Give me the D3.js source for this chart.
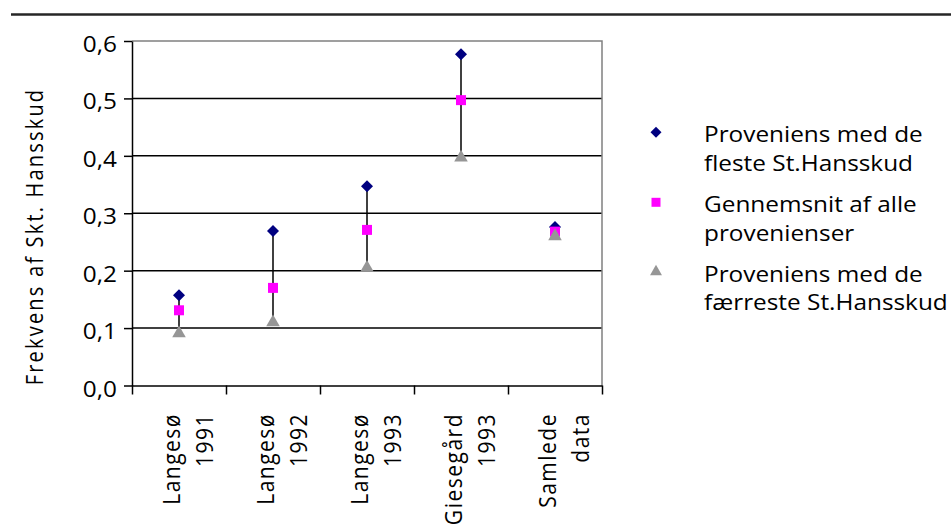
<!DOCTYPE html>
<html lang="da">
<head>
<meta charset="utf-8">
<title>Frekvens af Skt. Hansskud</title>
<script src="https://cdn.jsdelivr.net/npm/d3@7"></script>
<style>
    body { margin: 0; background: #fff; }
    text { font-family: "Open Sans", "Noto Sans", sans-serif; fill: #000; }
    .axis path, .axis line { fill: none; stroke: #000; stroke-width: 1.5; }
</style>
</head>
<body>
<script>
// data
var categories = [["Langesø", "1991"], ["Langesø", "1992"], ["Langesø", "1993"], ["Giesegård", "1993"], ["Samlede", "data"]];
var maxValues  = [0.157, 0.269, 0.347, 0.577, 0.276];
var meanValues = [0.131, 0.170, 0.271, 0.497, 0.268];
var minValues  = [0.091, 0.110, 0.205, 0.397, 0.260];
var yTicks = [0, 0.1, 0.2, 0.3, 0.4, 0.5, 0.6];
var seriesNames = [
    ["Proveniens med de", "fleste St.Hansskud"],
    ["Gennemsnit af alle", "provenienser"],
    ["Proveniens med de", "færreste St.Hansskud"]
];

var w = 951, h = 529;
var plotLeft = 132, plotRight = 602, plotTop = 41, plotBottom = 385.5;
var sx = 1.16;   // the original text is drawn a bit wide

var svg = d3.select("body").append("svg")
    .attr("width", w)
    .attr("height", h);

// rule at the top of the page
svg.append("line")
    .attr("x1", 11).attr("x2", w)
    .attr("y1", 14.5).attr("y2", 14.5)
    .attr("stroke", "#262626")
    .attr("stroke-width", 2.5);

var x = d3.scaleBand()
    .domain(d3.range(categories.length))
    .range([plotLeft, plotRight]);
var xEdge = d3.scaleLinear()
    .domain([0, categories.length])
    .range([plotLeft, plotRight]);
var y = d3.scaleLinear()
    .domain([0, 0.6])
    .range([plotBottom, plotTop]);

// gridlines
svg.selectAll("line.grid")
    .data(yTicks.filter(function(d) { return d > 0 && d < 0.6; }))
    .enter()
    .append("line")
    .attr("class", "grid")
    .attr("x1", plotLeft).attr("x2", plotRight)
    .attr("y1", function(d) { return y(d); })
    .attr("y2", function(d) { return y(d); })
    .attr("stroke", "#000")
    .attr("stroke-width", 1.5);

// grey frame top and right
svg.append("path")
    .attr("d", "M" + plotLeft + "," + y(0.6) + "H" + plotRight + "V" + plotBottom)
    .attr("fill", "none")
    .attr("stroke", "#808080")
    .attr("stroke-width", 1.5);

// axes
svg.append("g")
    .attr("class", "axis")
    .attr("transform", "translate(" + plotLeft + ",0)")
    .call(d3.axisLeft(y).tickValues(yTicks).tickSize(8).tickSizeOuter(0).tickFormat(""));
svg.append("g")
    .attr("class", "axis")
    .attr("transform", "translate(0," + plotBottom + ")")
    .call(d3.axisBottom(xEdge).tickValues(d3.range(categories.length + 1)).tickSize(9).tickSizeOuter(0).tickFormat(""));

// y tick labels
svg.selectAll("text.ytick")
    .data(yTicks)
    .enter()
    .append("text")
    .attr("class", "ytick")
    .attr("text-anchor", "end")
    .attr("font-size", 21)
    .attr("transform", function(d) { return "translate(117," + (y(d) + 11) + ") scale(" + sx + ",1)"; })
    .text(function(d) { return d3.format(".1f")(d).replace(".", ","); });

// x labels, rotated
var xl = svg.selectAll("text.xlab")
    .data(categories)
    .enter()
    .append("text")
    .attr("class", "xlab")
    .attr("text-anchor", "end")
    .attr("font-size", 21)
    .attr("letter-spacing", 1.5)
    .attr("transform", function(d, i) {
        return "translate(" + (x(i) + x.bandwidth() / 2 + 1) + ",413) scale(" + sx + ",1) rotate(-90)";
    });
xl.append("tspan").attr("x", 0).text(function(d) { return d[0]; });
xl.append("tspan").attr("x", 0).attr("dy", 28.6).text(function(d) { return d[1]; });

// y title
svg.append("text")
    .attr("text-anchor", "middle")
    .attr("font-size", 20)
    .attr("letter-spacing", 2.2)
    .attr("transform", "translate(43,236.5) scale(" + sx + ",1) rotate(-90)")
    .text("Frekvens af Skt. Hansskud");

// high-low lines
svg.selectAll("line.hl")
    .data(d3.range(categories.length))
    .enter()
    .append("line")
    .attr("class", "hl")
    .attr("x1", function(i) { return x(i) + x.bandwidth() / 2; })
    .attr("x2", function(i) { return x(i) + x.bandwidth() / 2; })
    .attr("y1", function(i) { return y(maxValues[i]); })
    .attr("y2", function(i) { return y(minValues[i]); })
    .attr("stroke", "#000")
    .attr("stroke-width", 1.5);

var series = [
    { values: maxValues,  shape: d3.symbolSquare,   size: 72,  rot: 45, color: "#000080", lsize: 60 },
    { values: meanValues, shape: d3.symbolSquare,   size: 100, rot: 0,  color: "#ff00ff", lsize: 81 },
    { values: minValues,  shape: d3.symbolTriangle, size: 80,  rot: 0,  color: "#969696", lsize: 62 }
];

series.forEach(function(s) {
    svg.selectAll(null)
        .data(s.values)
        .enter()
        .append("path")
        .attr("d", d3.symbol().type(s.shape).size(s.size))
        .attr("fill", s.color)
        .attr("transform", function(d, i) {
            return "translate(" + (x(i) + x.bandwidth() / 2) + "," + y(d) + ") rotate(" + s.rot + ")";
        });
});

// legend
var legendY = [132.3, 202.3, 271.7];
series.forEach(function(s, k) {
    svg.append("path")
        .attr("d", d3.symbol().type(s.shape).size(s.lsize))
        .attr("fill", s.color)
        .attr("transform", "translate(656," + legendY[k] + ") rotate(" + s.rot + ")");
    var t = svg.append("text")
        .attr("font-size", 21)
        .attr("transform", "translate(704," + (legendY[k] + 10) + ") scale(" + sx + ",1)");
    t.append("tspan").attr("x", 0).text(seriesNames[k][0]);
    t.append("tspan").attr("x", 0).attr("dy", 28.8).text(seriesNames[k][1]);
});
</script>
</body>
</html>
